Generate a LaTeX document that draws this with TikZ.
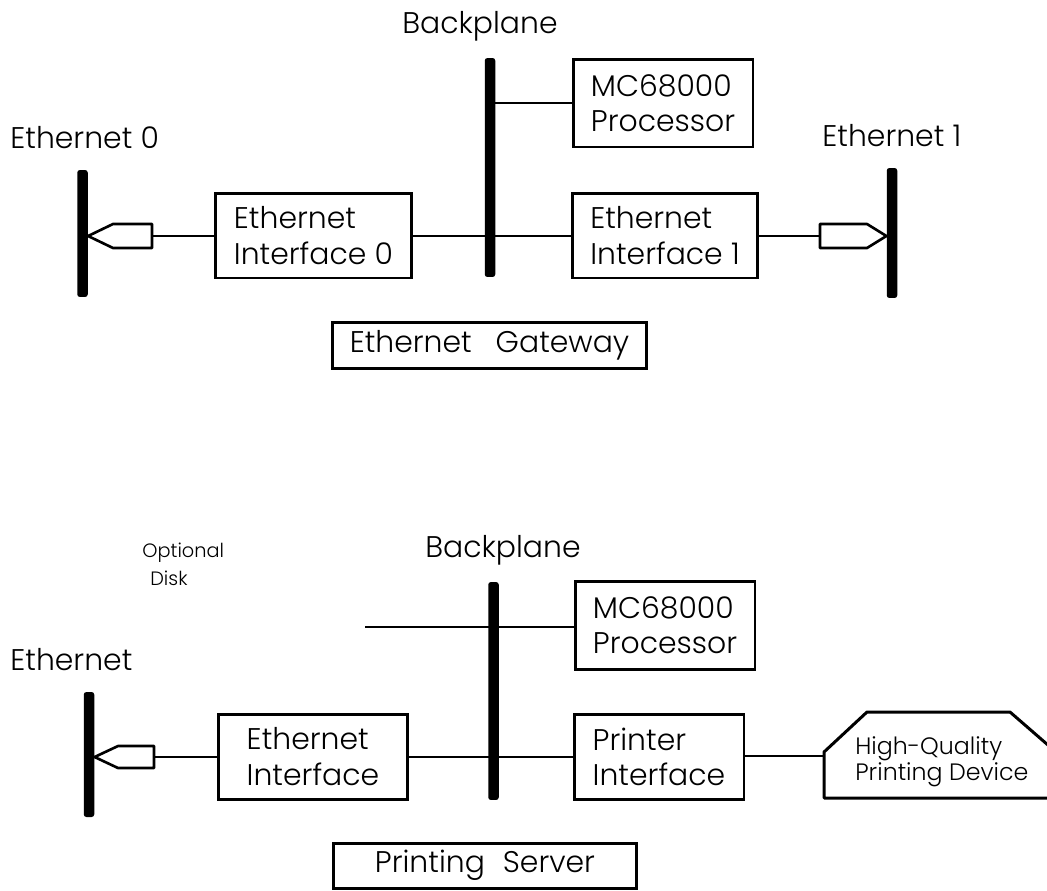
\documentclass[tikz,border=0pt]{standalone}
\usepackage{fontspec}
\setmainfont{Poppins Light}
\begin{document}
\begin{tikzpicture}[x=0.02cm, y=-0.02cm,
  wire/.style={line width=1.5pt},
  box/.style={draw, line width=1.7pt, inner sep=0pt, align=left,
    font=\fontsize{17}{20}\selectfont},
  bus/.style={fill=black, rounded corners=1.5pt, inner sep=0pt,
    minimum width=0.21cm},
  tapbody/.style={draw, line width=1.5pt, line join=round},
  lbl/.style={inner sep=0pt, anchor=base west, font=\fontsize{17}{20}\selectfont},
  small/.style={inner sep=0pt, anchor=base west, font=\fontsize{11}{13}\selectfont},
]
\useasboundingbox (0,0) rectangle (1047,890);
\clip (0,0) rectangle (1047,890);

% ---------------- Ethernet gateway ----------------
\node[lbl] (bplabel1) at (402,33) {Backplane};
\node[lbl] (e0label) at (10,148) {Ethernet 0};
\node[lbl] (e1label) at (822,146) {Ethernet 1};

\node[bus, minimum height=4.38cm] (bp1) at (490,167.5) {};
\node[bus, minimum height=2.54cm] (eth0) at (82.5,233.5) {};
\node[bus, minimum height=2.60cm] (eth1) at (892,233) {};

\node[box, minimum width=3.60cm, minimum height=1.76cm] (mc1) at (663,103) {MC68000\\Processor};
\node[box, minimum width=3.94cm, minimum height=1.70cm] (if0) at (313.5,235.5) {Ethernet\\Interface 0};
\node[box, minimum width=3.70cm, minimum height=1.70cm] (if1) at (665,235.5) {Ethernet\\Interface 1};
\node[box, minimum width=6.30cm, minimum height=0.92cm] (gw) at (489.5,345) {Ethernet\hspace{0.8em}Gateway};

% transceiver taps
\coordinate (tap0) at (152,236);
\coordinate (tap1) at (820,236);
\draw[tapbody] (eth0.east |- tap0) -- (113,224) -- (152,224) -- (152,248) -- (113,248) -- cycle;
\draw[tapbody] (eth1.west |- tap1) -- (867,224) -- (820,224) -- (820,248) -- (867,248) -- cycle;

% connections
\draw[wire] (bp1.center |- mc1.west) -- (mc1.west);
\draw[wire] (tap0) -- (tap0 -| if0.west);
\draw[wire] (if0.east |- tap0) -- (if1.west |- tap0);
\draw[wire] (if1.east |- tap1) -- (tap1);

% ---------------- Printing server ----------------
\node[small] (opt) at (142,557) {Optional};
\node[small] (disk) at (150,585) {Disk};
\node[lbl] (bplabel2) at (425,557) {Backplane};
\node[lbl] (elabel) at (10,670) {Ethernet};

\node[bus, minimum height=4.36cm] (bp2) at (493.5,691) {};
\node[bus, minimum height=2.50cm] (eth) at (89,754.5) {};

\node[box, minimum width=3.60cm, minimum height=1.76cm] (mc2) at (665,625) {MC68000\\Processor};
\node[box, minimum width=3.80cm, minimum height=1.70cm] (ethif) at (313,756.5) {Ethernet\\Interface};
\node[box, minimum width=3.40cm, minimum height=1.70cm] (prif) at (659,756.5) {Printer\\Interface};
\node[box, minimum width=6.08cm, minimum height=0.90cm] (ps) at (485,865.5) {Printing\hspace{0.6em}Server};

% printing device outline and its label
\coordinate (dev) at (824,756);
\draw[tapbody, line width=1.7pt] (824,798) -- (824,752) -- (867,712) -- (1010,712) -- (1056,752) -- (1056,798) -- cycle;
\node[inner sep=0pt, align=left, font=\fontsize{13.5}{14.7}\selectfont, anchor=base west]
  (devlabel) at (855,780) {High-Quality\\Printing Device};

% transceiver tap and disk line end
\coordinate (tap2) at (154,757);
\coordinate (diskend) at (365,627);
\draw[tapbody] (eth.east |- tap2) -- (118,746) -- (154,746) -- (154,768) -- (118,768) -- cycle;

% connections
\draw[wire] (diskend) -- (mc2.west |- diskend);
\draw[wire] (tap2) -- (tap2 -| ethif.west);
\draw[wire] (ethif.east |- tap2) -- (prif.west |- tap2);
\draw[wire] (prif.east |- dev) -- (dev);
\end{tikzpicture}
\end{document}
